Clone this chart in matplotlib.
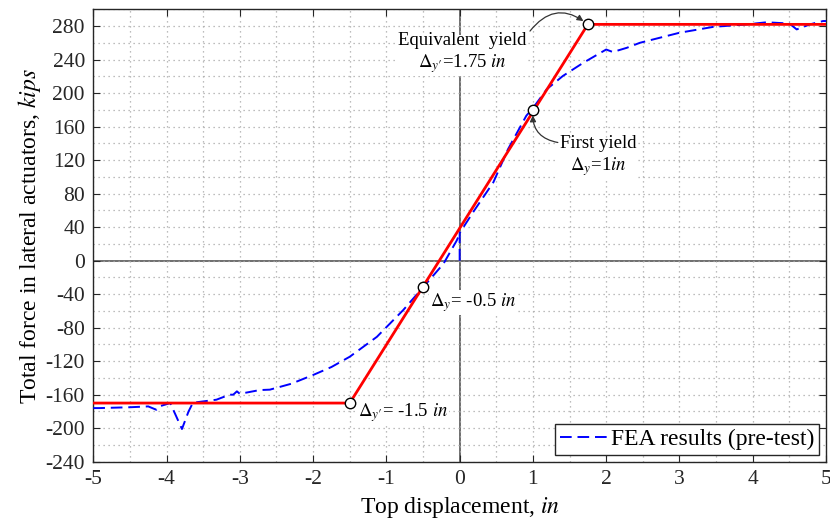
import numpy as np
import matplotlib
matplotlib.use('Agg')
import matplotlib.pyplot as plt
from matplotlib.ticker import MultipleLocator

plt.rcParams['font.family'] = ['Liberation Serif', 'DejaVu Serif']
plt.rcParams['mathtext.fontset'] = 'stix'
plt.rcParams['axes.unicode_minus'] = False

# bilinear idealisation
bil_x = [-5, -1.5, 1.75, 5]
bil_y = [-170, -170, 282, 282]

# characteristic points (circles)
pt_x = [-1.5, -0.5, 1.0, 1.75]
pt_y = [-170, -31, 180, 282]

# FEA pushover, negative branch
fea_neg_x = [-5.0, -4.92, -4.5, -4.25, -4.14, -4.1, -3.95, -3.79, -3.70, -3.64, -3.32,
             -3.14, -3.09, -3.04, -3.0, -2.73, -2.59, -2.3, -2.0, -1.75, -1.5, -1.13,
             -0.77, -0.475, -0.22, -0.04, 0.0]
fea_neg_y = [-176, -176, -175, -174, -178, -174, -170, -201, -180, -169.6, -166,
             -160, -160, -156, -159, -154.5, -154, -147, -136.5, -127, -114.7, -91,
             -59, -29.4, -3.6, 24, 32]

# FEA pushover, positive branch
fea_pos_x = [0.0, 0.0, 0.2, 0.46, 0.66, 0.91, 1.0, 1.19, 1.41, 1.69, 2.0, 2.09, 2.28,
             2.46, 3.0, 3.46, 3.92, 4.19, 4.5, 4.6, 4.78, 4.96, 5.0]
fea_pos_y = [0, 33, 60, 93.5, 133, 173, 182, 204.7, 220.5, 236.3, 252, 249, 254,
             260, 272, 279, 282, 284.5, 283, 276, 282, 286, 286]

fig = plt.figure(figsize=(8.3, 5.31), dpi=100, facecolor='w')
ax = fig.add_axes([0.1124, 0.1305, 0.8828, 0.852])

ax.axhline(0, color='#555555', lw=1.2, zorder=1)
ax.axvline(0, color='#555555', lw=1.2, zorder=1)

l1, = ax.plot(fea_neg_x, fea_neg_y, color='blue', lw=1.4, ls=(0, (6, 3)), zorder=3,
              label='FEA results (pre-test)')
ax.plot(fea_pos_x, fea_pos_y, color='blue', lw=1.4, ls=(0, (6, 3)), zorder=3)
ax.plot(bil_x, bil_y, color='red', lw=2.0, zorder=4)
ax.plot(pt_x, pt_y, 'o', ms=7.5, mfc='white', mec='black', mew=1.0, zorder=6)

ax.set_xlim(-5, 5)
ax.set_ylim(-240, 300)
ax.set_xticks(np.arange(-5, 6, 1))
ax.set_yticks(np.arange(-240, 281, 40))
ax.xaxis.set_minor_locator(MultipleLocator(0.5))
ax.yaxis.set_minor_locator(MultipleLocator(20))
ax.grid(which='both', ls=(0, (1, 3)), color='#a8a8a8', lw=0.9)
ax.tick_params(which='major', direction='in', top=True, right=True, length=5,
               labelsize=15.5, colors='#262626', pad=6)
ax.tick_params(which='minor', length=0)
for s in ax.spines.values():
    s.set_color('#262626')
    s.set_linewidth(1.0)

ax.set_xlabel('Top displacement, $\\mathit{in}$', fontsize=17, labelpad=4)
ax.set_ylabel('Total force in lateral actuators, $\\mathit{kips}$', fontsize=17, labelpad=2)

box = dict(facecolor='white', edgecolor='none', pad=1)
ax.text(0.03, 247, 'Equivalent  yield\n$\\Delta_{y\\prime}$=1.75 $\\mathit{in}$', fontsize=13.5,
        ha='center', va='center', multialignment='center', bbox=box, zorder=5)
ax.text(1.886, 124, 'First yield\n$\\Delta_y$=1$\\mathit{in}$', fontsize=13.5,
        ha='center', va='center', multialignment='center', bbox=box, zorder=5)
ax.text(-0.40, -50, '$\\Delta_y$= -0.5 $\\mathit{in}$', fontsize=13.5,
        ha='left', va='center', bbox=box, zorder=5)
ax.text(-1.39, -181, '$\\Delta_{y\\prime}$= -1.5 $\\mathit{in}$', fontsize=13.5,
        ha='left', va='center', bbox=box, zorder=5)

arr = dict(arrowstyle='-|>', color='#333333', lw=0.9, mutation_scale=9, shrinkA=0, shrinkB=4)
ax.annotate('', xy=(1.75, 282), xytext=(0.96, 274),
            arrowprops=dict(arr, connectionstyle='arc3,rad=-0.5'), zorder=7)
ax.annotate('', xy=(1.0, 180), xytext=(1.34, 141),
            arrowprops=dict(arr, connectionstyle='arc3,rad=-0.45'), zorder=7)

leg = ax.legend(handles=[l1], loc='lower right', fontsize=17, fancybox=False,
                edgecolor='#262626', framealpha=1, borderaxespad=0.3,
                handlelength=2.0, handletextpad=0.15, borderpad=0.2)
leg.get_frame().set_linewidth(1.0)

fig.savefig('out.png', dpi=100)
